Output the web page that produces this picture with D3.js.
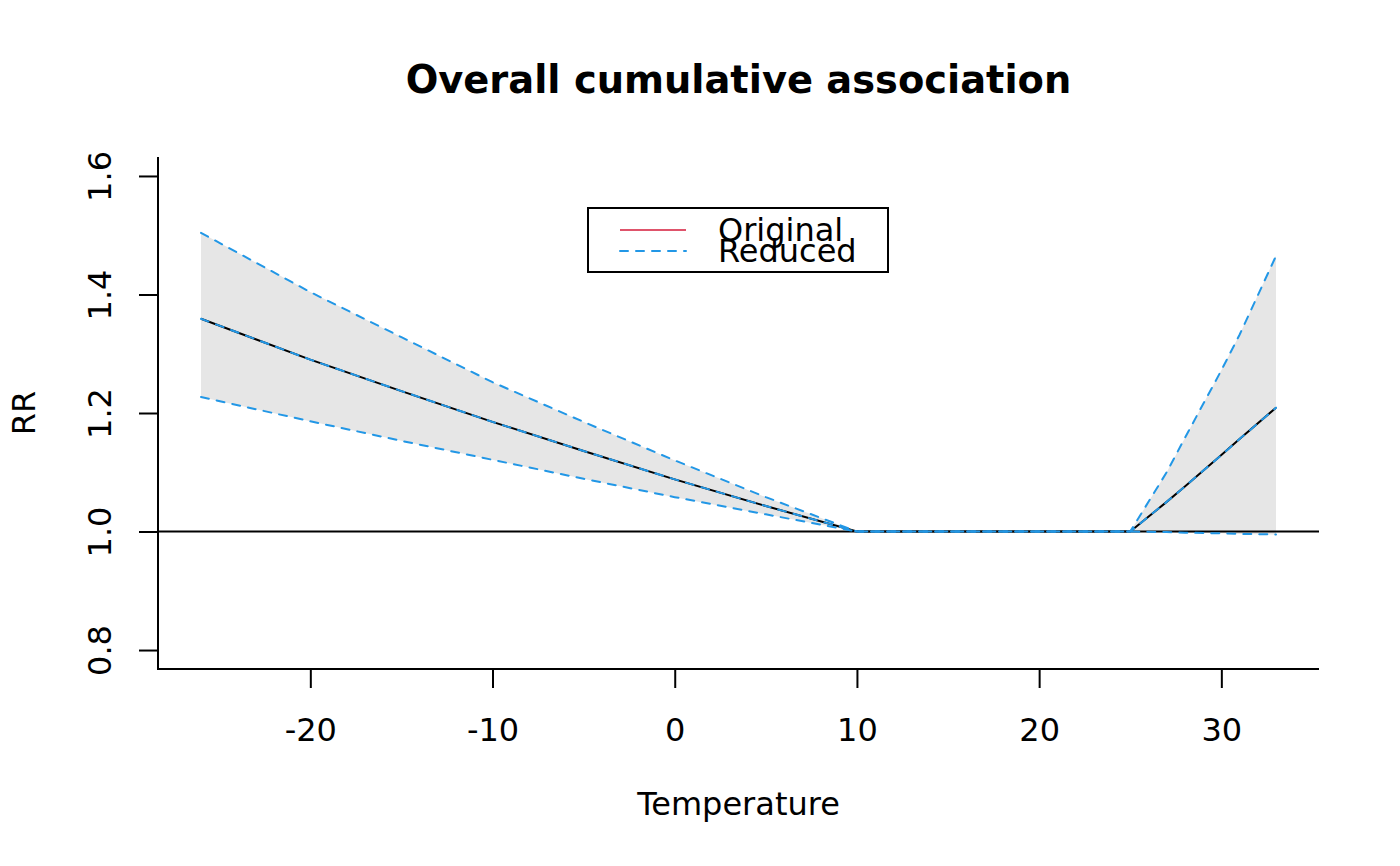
<!DOCTYPE html>
<html>
<head>
	<meta charset="utf-8">
	<style>
		body { margin: 0; background: white; }
		text { font-family: "DejaVu Sans", sans-serif; fill: black; }
	</style>
	<title>Overall cumulative association</title>
</head>
<body>
	<script src="https://cdnjs.cloudflare.com/ajax/libs/d3/7.8.5/d3.min.js"></script>
	<script>
	// Temperature grid and cumulative RR
	var temps = [-26, -20, -15, -10, -5, 0, 5, 10, 15, 20, 25, 27, 28, 30, 31, 33];
	var rr    = [1.359, 1.290, 1.237, 1.185, 1.136, 1.088, 1.043, 1.0, 1.0, 1.0, 1.0, 1.050, 1.076, 1.129, 1.156, 1.209];
	var rrLow = [1.227, 1.186, 1.153, 1.121, 1.089, 1.058, 1.029, 1.0, 1.0, 1.0, 1.0, 0.999, 0.998, 0.997, 0.996, 0.995];
	var rrHigh = [1.504, 1.404, 1.328, 1.252, 1.185, 1.120, 1.058, 1.0, 1.0, 1.0, 1.0, 1.100, 1.158, 1.272, 1.332, 1.465];

	var xTicks = [-20, -10, 0, 10, 20, 30];
	var yTicks = [0.8, 1.0, 1.2, 1.4, 1.6];
	var legendLabels = ["Original", "Reduced"];
	var legendColors = ["#DF536B", "#2297E6"];

	var lw = 2;
	var dash = "8,8";

	var svg = d3.select("body")
	            .append("svg")
	            .attr("width", 1400)
	            .attr("height", 866);

	// plot region (don't use "top" - clashes with window.top)
	var pLeft = 158, pRight = 1319, pTop = 157, pBottom = 669;

	var xScale = d3.scaleLinear()
	               .domain([-28.36, 35.36])
	               .range([pLeft, pRight]);
	var yScale = d3.scaleLinear()
	               .domain([0.768, 1.632])
	               .range([pBottom, pTop]);

	var pts = temps.map(function(t, i){
		return {x: t, y: rr[i], lo: rrLow[i], hi: rrHigh[i]};
	});

	// confidence area
	var area = d3.area()
	             .x(function(d){ return xScale(d.x); })
	             .y0(function(d){ return yScale(d.lo); })
	             .y1(function(d){ return yScale(d.hi); });
	svg.append("path")
	   .datum(pts)
	   .attr("d", area)
	   .style("fill", "#E6E6E6");

	// reference line at 1
	svg.append("line")
	   .attr("x1", pLeft).attr("x2", pRight)
	   .attr("y1", yScale(1)).attr("y2", yScale(1))
	   .style("stroke", "black")
	   .style("stroke-width", lw);

	var line = function(key){
		return d3.line()
		         .x(function(d){ return xScale(d.x); })
		         .y(function(d){ return yScale(d[key]); });
	};

	// original estimate
	svg.append("path")
	   .datum(pts)
	   .attr("d", line("y"))
	   .style("fill", "none")
	   .style("stroke", "black")
	   .style("stroke-width", lw);

	// reduced estimate and limits
	["y", "lo", "hi"].forEach(function(k){
		svg.append("path")
		   .datum(pts)
		   .attr("d", line(k))
		   .style("fill", "none")
		   .style("stroke", "#2297E6")
		   .style("stroke-width", lw)
		   .style("stroke-dasharray", dash)
		   .style("stroke-linecap", "round");
	});

	// L-shaped box
	svg.append("path")
	   .attr("d", "M" + pLeft + "," + pTop + "V" + pBottom + "H" + pRight)
	   .style("fill", "none")
	   .style("stroke", "black")
	   .style("stroke-width", lw);

	// x axis
	var xAxis = d3.axisBottom(xScale)
	              .tickValues(xTicks)
	              .tickFormat(function(d){ return String(d); })
	              .tickSize(19)
	              .tickPadding(30)
	              .tickSizeOuter(0);
	var gx = svg.append("g")
	            .attr("transform", "translate(0," + pBottom + ")")
	            .call(xAxis);
	gx.select(".domain").remove();
	gx.selectAll("line").style("stroke-width", lw);
	gx.selectAll("text")
	  .style("font-size", "32px")
	  .style("font-family", "DejaVu Sans");

	// y axis
	var yAxis = d3.axisLeft(yScale)
	              .tickValues(yTicks)
	              .tickFormat(d3.format(".1f"))
	              .tickSize(19)
	              .tickSizeOuter(0);
	var gy = svg.append("g")
	            .attr("transform", "translate(" + pLeft + ",0)")
	            .call(yAxis);
	gy.select(".domain").remove();
	gy.selectAll("line").style("stroke-width", lw);
	gy.selectAll("text")
	  .attr("x", null).attr("dy", null)
	  .attr("transform", "translate(-47,0) rotate(-90)")
	  .style("text-anchor", "middle")
	  .style("font-size", "32px")
	  .style("font-family", "DejaVu Sans");

	// title
	svg.append("text")
	   .attr("x", (pLeft + pRight) / 2)
	   .attr("y", 93)
	   .style("text-anchor", "middle")
	   .style("font-size", "38.4px")
	   .style("font-weight", "bold")
	   .text("Overall cumulative association");

	// axis titles
	svg.append("text")
	   .attr("x", (pLeft + pRight) / 2)
	   .attr("y", 815)
	   .style("text-anchor", "middle")
	   .style("font-size", "32px")
	   .text("Temperature");
	svg.append("text")
	   .attr("transform", "translate(35," + (pTop + pBottom) / 2 + ") rotate(-90)")
	   .style("text-anchor", "middle")
	   .style("font-size", "32px")
	   .text("RR");

	// legend
	var lg = svg.append("g");
	lg.append("rect")
	  .attr("x", 588).attr("y", 208)
	  .attr("width", 300).attr("height", 64)
	  .style("fill", "white")
	  .style("stroke", "black")
	  .style("stroke-width", lw);
	legendLabels.forEach(function(lab, i){
		var yy = 230 + i * 21;
		lg.append("line")
		  .attr("x1", 620).attr("x2", 686)
		  .attr("y1", yy).attr("y2", yy)
		  .style("stroke", legendColors[i])
		  .style("stroke-width", lw)
		  .style("stroke-dasharray", i == 1 ? dash : null)
		  .style("stroke-linecap", i == 1 ? "round" : null);
		lg.append("text")
		  .attr("x", 718)
		  .attr("y", yy + 11)
		  .style("font-size", "32px")
		  .text(lab);
	});
	</script>
</body>
</html>
